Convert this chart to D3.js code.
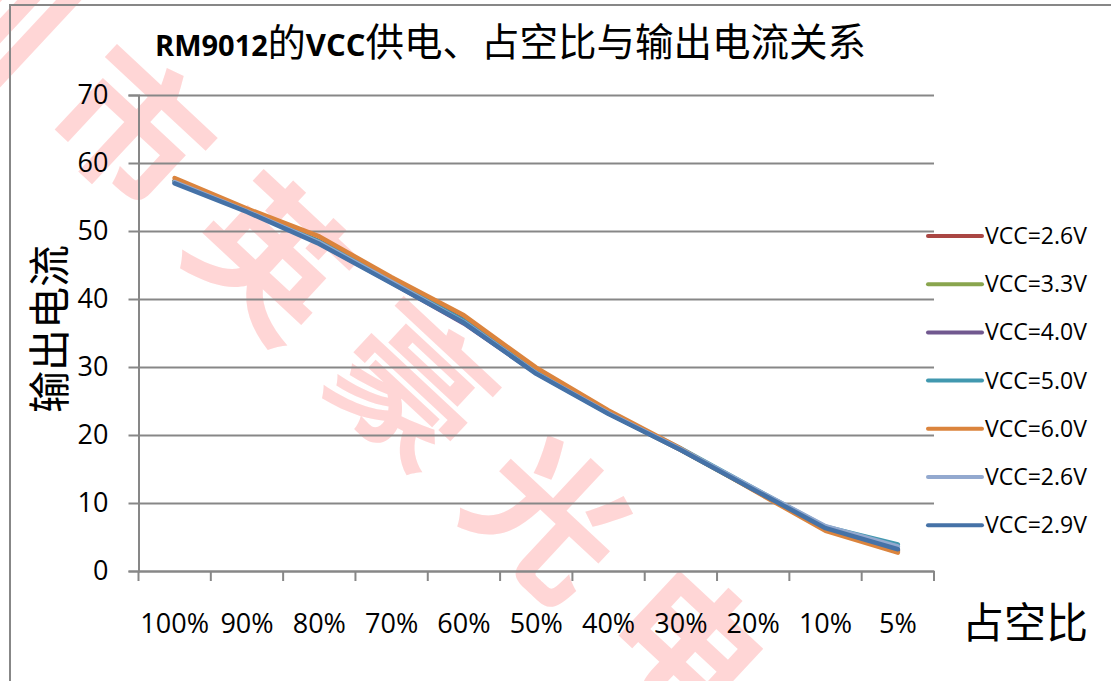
<!doctype html>
<html>
<head>
<meta charset="utf-8">
<script src="https://d3js.org/d3.v7.min.js"></script>
<style>
    body { margin:0; background:#fff; }
    svg { display:block; }
</style>
</head>
<body>
<svg id="svg1" width="1111" height="681"></svg>
<script>
// duty cycle categories
var categories = ["100%","90%","80%","70%","60%","50%","40%","30%","20%","10%","5%"]
var yTicks = [0,10,20,30,40,50,60,70]
var seriesNames = ["VCC=2.6V","VCC=3.3V","VCC=4.0V","VCC=5.0V","VCC=6.0V","VCC=2.6V","VCC=2.9V"]

// output current readings, one array per supply voltage
var vcc26 = [57.4, 53.0, 48.5, 42.8, 36.9, 29.3, 23.3, 17.9, 12.0, 6.1, 2.9]
var vcc33 = [57.3, 53.0, 48.4, 42.7, 36.7, 29.2, 23.2, 17.8, 12.0, 6.1, 3.0]
var vcc40 = [57.1, 53.2, 48.2, 42.4, 36.4, 29.1, 23.2, 17.8, 12.1, 6.2, 3.1]
var vcc50 = [57.3, 53.0, 48.4, 42.6, 36.8, 29.2, 23.3, 18.0, 12.2, 6.5, 3.9]
var vcc60 = [57.8, 53.3, 49.2, 43.2, 37.6, 29.9, 23.6, 18.0, 11.9, 5.9, 2.7]
var vcc26b = [57.2, 52.9, 48.3, 42.5, 36.6, 29.1, 23.2, 17.9, 12.2, 6.6, 3.6]
var vcc29 = [57.0, 52.8, 48.1, 42.3, 36.5, 29.0, 23.1, 17.8, 12.0, 6.3, 3.2]

var allSeries = [vcc26, vcc33, vcc40, vcc50, vcc60, vcc26b, vcc29]
var colors = ["#aa4643","#89a54e","#71588f","#4198af","#db843d","#93a9cf","#4572a7"]

var svg = d3.select("#svg1")
var gridColor = "#878787"
var latin = "'Open Sans', 'DejaVu Sans', sans-serif"
var cjk = "'Noto Sans CJK SC', sans-serif"

// watermark
svg.append("text")
    .attr("transform", "translate(-194,-189) rotate(43)")
    .attr("dominant-baseline", "central")
    .attr("font-family", cjk)
    .attr("font-weight", "bold")
    .attr("font-size", 150)
    .attr("letter-spacing", 40)
    .attr("fill", "#ffd6d6")
    .text("深圳市英豪光电")

// outer chart frame
svg.append("rect")
    .attr("x", 10).attr("y", 5)
    .attr("width", 1130).attr("height", 700)
    .attr("fill", "none").attr("stroke", gridColor).attr("stroke-width", 2)

var plotLeft = 138.5, plotRight = 934, plotTop = 95, plotBottom = 571

var x = d3.scaleBand().domain(categories).range([plotLeft, plotRight])
var y = d3.scaleLinear().domain([0, 70]).range([plotBottom, plotTop])

// horizontal grid lines + y axis
var yAxis = svg.append("g")
    .attr("transform", "translate(" + plotLeft + ",0)")
    .call(d3.axisLeft(y).tickValues(yTicks).tickSize(10).tickPadding(20).tickFormat(d3.format("d")))
yAxis.select(".domain").attr("stroke", gridColor).attr("stroke-width", 2)
yAxis.selectAll(".tick line").attr("stroke", gridColor).attr("stroke-width", 2)
yAxis.selectAll(".tick").append("line")
    .attr("x1", 0).attr("x2", plotRight - plotLeft)
    .attr("stroke", gridColor).attr("stroke-width", 2)
yAxis.selectAll(".tick text")
    .attr("font-family", latin).attr("font-size", 27).attr("fill", "#000")

// x axis
var xAxis = svg.append("g")
    .attr("transform", "translate(0," + plotBottom + ")")
    .call(d3.axisBottom(x).tickSize(0).tickPadding(62))
xAxis.select(".domain").attr("stroke", gridColor).attr("stroke-width", 2)
xAxis.selectAll(".tick text")
    .attr("font-family", latin).attr("font-size", 27).attr("fill", "#000")
    .attr("dy", 0)
// x ticks sit on the category borders
var edges = categories.map(function(c) { return x(c) }).concat([plotRight])
xAxis.selectAll(".edge").data(edges).enter().append("line")
    .attr("x1", function(d) { return d }).attr("x2", function(d) { return d })
    .attr("y1", 0).attr("y2", 10)
    .attr("stroke", gridColor).attr("stroke-width", 2)

// series lines
var line = d3.line()
    .x(function(d, i) { return x(categories[i]) + x.bandwidth() / 2 })
    .y(function(d) { return y(d) })

svg.selectAll(".series").data(allSeries).enter().append("path")
    .attr("d", function(d) { return line(d) })
    .attr("fill", "none")
    .attr("stroke", function(d, i) { return colors[i] })
    .attr("stroke-width", 4.5)
    .attr("stroke-linejoin", "round")
    .attr("stroke-linecap", "round")

// legend
var legend = svg.selectAll(".legend").data(seriesNames).enter().append("g")
    .attr("transform", function(d, i) { return "translate(928," + (236 + i * 48.2) + ")" })
legend.append("line")
    .attr("x1", 0).attr("x2", 54)
    .attr("stroke", function(d, i) { return colors[i] })
    .attr("stroke-width", 4)
    .attr("stroke-linecap", "round")
legend.append("text")
    .attr("x", 57).attr("dy", "0.35em")
    .attr("font-family", latin).attr("font-size", 23)
    .text(function(d) { return d })

// title
var title = svg.append("text").attr("x", 155).attr("y", 56)
title.append("tspan").attr("font-family", latin).attr("font-weight", "bold").attr("font-size", 29).text("RM9012")
title.append("tspan").attr("font-family", cjk).attr("font-size", 38).text("的")
title.append("tspan").attr("font-family", latin).attr("font-weight", "bold").attr("font-size", 31).text("VCC")
title.append("tspan").attr("font-family", cjk).attr("font-size", 38.5).text("供电、占空比与输出电流关系")

// axis titles
svg.append("text")
    .attr("transform", "translate(46,329) rotate(-90)")
    .attr("text-anchor", "middle").attr("dominant-baseline", "central")
    .attr("font-family", cjk).attr("font-size", 42)
    .text("输出电流")
svg.append("text")
    .attr("x", 1025).attr("y", 619)
    .attr("text-anchor", "middle").attr("dominant-baseline", "central")
    .attr("font-family", cjk).attr("font-size", 42)
    .text("占空比")
</script>
</body>
</html>
